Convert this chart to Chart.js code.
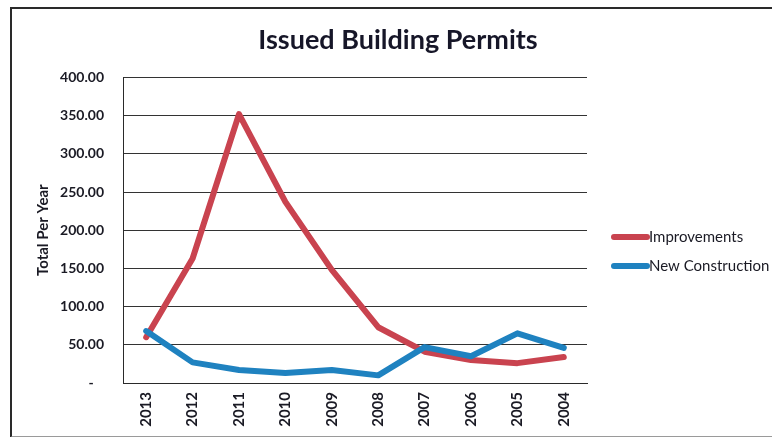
<!DOCTYPE html>
<html>
<head>
<meta charset="utf-8">
<script src="https://cdn.jsdelivr.net/npm/chart.js@4.4.1/dist/chart.umd.min.js"></script>
<style>
  html, body { margin: 0; padding: 0; background: #fff; overflow: hidden; }
  #wrap { position: relative; width: 772px; height: 437px; }
  #frame {
    position: absolute; left: 10px; top: 7px; width: 780px; height: 427px;
    border-top: 2px solid #2a2a2a; border-left: 2px solid #2a2a2a;
    border-bottom: 2px solid #9a9a9a;
  }
  canvas { position: absolute; left: 0; top: 0; }
</style>
</head>
<body>
<div id="wrap">
  <div id="frame"></div>
  <canvas id="permitChart" width="772" height="437"></canvas>
</div>
<script>
const years = ["2013", "2012", "2011", "2010", "2009", "2008", "2007", "2006", "2005", "2004"];
const improvements = [60, 163, 352, 237, 148, 73, 41, 30, 26, 34];
const newConstruction = [68, 27, 17, 13, 17, 10, 47, 35, 65, 46];
const yTicks = [0, 50, 100, 150, 200, 250, 300, 350, 400];

const FONT = "Lato, 'Open Sans', sans-serif";

// legend drawn at the right, Excel style line swatches
const sideLegend = {
    id: "sideLegend",
    afterDraw(chart) {
        const ctx = chart.ctx;
        const x0 = 614;
        let y = 237;
        ctx.save();
        chart.data.datasets.forEach(ds => {
            ctx.strokeStyle = ds.borderColor;
            ctx.lineWidth = 6;
            ctx.lineCap = "round";
            ctx.beginPath();
            ctx.moveTo(x0, y);
            ctx.lineTo(x0 + 33, y);
            ctx.stroke();
            ctx.fillStyle = "#1a1a24";
            ctx.font = "15px " + FONT;
            ctx.textBaseline = "middle";
            ctx.textAlign = "left";
            ctx.fillText(ds.label, x0 + 35, y);
            y += 29;
        });
        ctx.restore();
    }
};

new Chart(document.getElementById("permitChart").getContext("2d"), {
    type: "line",
    data: {
        labels: years,
        datasets: [
            {
                label: "Improvements",
                data: improvements,
                borderColor: "#c9434f",
                backgroundColor: "#c9434f",
                borderWidth: 6,
                borderJoinStyle: "round",
                borderCapStyle: "round",
                pointRadius: 0,
                tension: 0,
                order: 2
            },
            {
                label: "New Construction",
                data: newConstruction,
                borderColor: "#1f82c0",
                backgroundColor: "#1f82c0",
                borderWidth: 6,
                borderJoinStyle: "round",
                borderCapStyle: "round",
                pointRadius: 0,
                tension: 0,
                order: 1
            }
        ]
    },
    options: {
        responsive: false,
        animation: false,
        layout: {
            padding: { left: 24, right: 0, top: 0, bottom: 0 }
        },
        plugins: {
            legend: { display: false },
            tooltip: { enabled: false },
            title: {
                display: true,
                text: "Issued Building Permits",
                color: "#161628",
                font: { family: FONT, size: 27, weight: "bold" },
                padding: { top: 24, bottom: 21 }
            }
        },
        scales: {
            x: {
                offset: true,
                grid: { display: false, drawTicks: false },
                border: { display: true, color: "#2a2a2a", width: 1 },
                ticks: {
                    color: "#1a1a24",
                    font: { family: FONT, size: 15, weight: "bold" },
                    minRotation: 90,
                    maxRotation: 90,
                    padding: 9
                },
                afterFit(scale) {
                    scale.height = 54;
                }
            },
            y: {
                min: 0,
                max: 400,
                afterBuildTicks(scale) {
                    scale.ticks = yTicks.map(v => ({ value: v }));
                },
                grid: {
                    color: "#333",
                    lineWidth: 1,
                    drawTicks: false
                },
                border: { display: true, color: "#2a2a2a", width: 1 },
                ticks: {
                    color: "#1a1a24",
                    font: { family: FONT, size: 14, weight: "bold" },
                    padding: 19,
                    callback: v => v === 0 ? "-   " : v.toFixed(2)
                },
                title: {
                    display: true,
                    text: "Total Per Year",
                    color: "#1a1a24",
                    font: { family: FONT, size: 15, weight: "bold" },
                    padding: { top: 10, bottom: 0 }
                },
                afterFit(scale) {
                    scale.width = 99;
                }
            },
            // empty axis that keeps room for the legend on the right
            legendSpace: {
                position: "right",
                display: true,
                grid: { display: false, drawTicks: false },
                border: { display: false },
                ticks: { display: false },
                afterFit(scale) {
                    scale.width = 185;
                }
            }
        }
    },
    plugins: [sideLegend]
});
</script>
</body>
</html>
